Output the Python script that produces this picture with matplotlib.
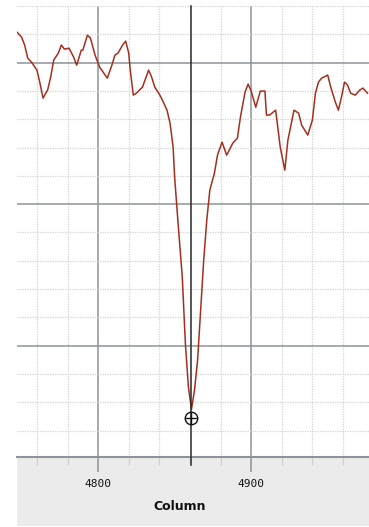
import matplotlib.pyplot as plt
from matplotlib.patches import Rectangle
from matplotlib.ticker import MultipleLocator

# spectrum trace across the absorption line
columns = [4747, 4750, 4752, 4754, 4757, 4760, 4762, 4764, 4767, 4769,
           4771, 4774, 4776, 4778, 4781, 4784, 4786, 4789, 4790, 4793,
           4795, 4798, 4801, 4806, 4809, 4811, 4813, 4816, 4818, 4820,
           4821, 4823, 4825, 4829, 4833, 4835, 4837, 4840, 4842, 4845,
           4847, 4849, 4850, 4852, 4855, 4857, 4859, 4861, 4863, 4865,
           4867, 4869, 4871, 4873, 4876, 4878, 4881, 4884, 4888, 4891,
           4893, 4896, 4898, 4900, 4903, 4906, 4909, 4910, 4912, 4916,
           4919, 4922, 4924, 4928, 4931, 4933, 4937, 4940, 4942, 4944,
           4946, 4950, 4952, 4955, 4957, 4959, 4961, 4963, 4965, 4968,
           4971, 4973, 4976]
intensity = [4215, 4180, 4124, 4032, 3996, 3947, 3855, 3749, 3806, 3897,
             4018, 4067, 4124, 4095, 4102, 4039, 3982, 4088, 4088, 4194,
             4173, 4053, 3968, 3890, 3982, 4053, 4067, 4124, 4152, 4067,
             3947, 3770, 3784, 3827, 3947, 3897, 3827, 3777, 3735, 3664,
             3572, 3403, 3191, 2900, 2484, 2018, 1707, 1550, 1686, 1898,
             2251, 2604, 2887, 3099, 3219, 3346, 3438, 3346, 3431, 3466,
             3615, 3791, 3848, 3799, 3685, 3799, 3799, 3629, 3629, 3664,
             3403, 3240, 3452, 3664, 3643, 3558, 3488, 3594, 3784, 3862,
             3890, 3912, 3827, 3721, 3664, 3756, 3862, 3841, 3784, 3770,
             3806, 3820, 3784]

cursor_col = 4861
cursor_val = 1490
xticks = [4800, 4900]

W, H = 369, 527
fig = plt.figure(figsize=(W / 100, H / 100), dpi=100)
fig.patch.set_facecolor('white')

# grey label strip under the plot
fig.patches.append(Rectangle((17 / W, 1 / H), (W - 17) / W, 70 / H,
                             transform=fig.transFigure, facecolor='#ebebeb',
                             edgecolor='none', zorder=-5))

ax = fig.add_axes([17 / W, (H - 456.7) / H, (W - 17) / W, (456.7 - 6) / H])
ax.set_facecolor('white')
ax.set_xlim(4747, 4977)
ax.set_ylim(1215, 4400)

ax.xaxis.set_major_locator(MultipleLocator(100))
ax.xaxis.set_minor_locator(MultipleLocator(20))
ax.yaxis.set_major_locator(MultipleLocator(1000))
ax.yaxis.set_minor_locator(MultipleLocator(200))

ax.grid(which='minor', color='#d3d3d3', linestyle=(0, (1, 1)), linewidth=0.9)
ax.grid(which='major', color='#8d9399', linestyle='-', linewidth=1.1)
ax.set_axisbelow(True)

for side in ['top', 'right', 'left']:
    ax.spines[side].set_visible(False)
ax.spines['bottom'].set_color('#8d9399')
ax.spines['bottom'].set_linewidth(1.5)

ax.tick_params(axis='y', which='both', left=False, labelleft=False)
ax.tick_params(axis='x', which='major', length=11, width=1.1, color='#8d9399',
               pad=5, labelsize=8, labelcolor='#111111')
ax.tick_params(axis='x', which='minor', length=6, width=0.9, color='#cfcfcf')
ax.set_xticks(xticks)
ax.set_xticklabels([str(t) for t in xticks], family='DejaVu Sans Mono')

ax.plot(columns, intensity, color='#a3301f', linewidth=1.1, zorder=3)

# cursor line and crosshair marker
ax.axvline(cursor_col, ymin=-0.018, ymax=1, color='#2b2b2b', linewidth=1.1,
           clip_on=False, zorder=4)
ax.plot([cursor_col], [cursor_val], marker='o', markersize=9, markerfacecolor='none',
        markeredgecolor='#111111', markeredgewidth=1.0, zorder=5)
ax.plot([cursor_col], [cursor_val], marker='+', markersize=9,
        markeredgecolor='#111111', markeredgewidth=1.0, zorder=5)

fig.text(180 / W, 1 - 506.7 / H, 'Column', ha='center', va='center',
         fontsize=9, fontweight='bold', color='#111111')

fig.savefig('out.png', dpi=100)
